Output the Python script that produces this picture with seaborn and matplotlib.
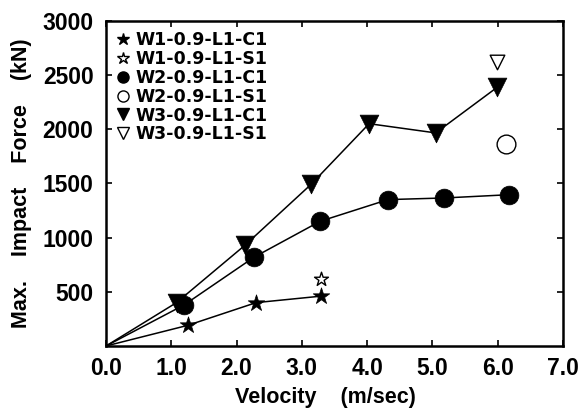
import matplotlib
matplotlib.use("Agg")
import matplotlib.pyplot as plt
from matplotlib import font_manager
from matplotlib.lines import Line2D
import seaborn as sns
import pandas as pd

# Measured impact forces against impact velocity
w1_c1_vel = [0.0, 1.25, 2.30, 3.30]
w1_c1_force = [0, 190, 400, 460]
w1_s1_vel = [3.30]
w1_s1_force = [620]

w2_c1_vel = [0.0, 1.20, 2.27, 3.28, 4.32, 5.18, 6.17]
w2_c1_force = [0, 380, 820, 1150, 1350, 1365, 1395]
w2_s1_vel = [6.13]
w2_s1_force = [1860]

w3_c1_vel = [0.0, 1.08, 2.13, 3.14, 4.03, 5.05, 5.99]
w3_c1_force = [0, 400, 930, 1490, 2050, 1965, 2385]
w3_s1_vel = [5.99]
w3_s1_force = [2620]

series_names = ["W1-0.9-L1-C1", "W1-0.9-L1-S1", "W2-0.9-L1-C1",
                "W2-0.9-L1-S1", "W3-0.9-L1-C1", "W3-0.9-L1-S1"]
x_ticks = [0.0, 1.0, 2.0, 3.0, 4.0, 5.0, 6.0, 7.0]
y_ticks = [500, 1000, 1500, 2000, 2500, 3000]

sns.set_theme(style="ticks")
plt.rcParams.update({
    "text.color": "black",
    "axes.labelcolor": "black",
    "xtick.color": "black",
    "ytick.color": "black",
    "axes.edgecolor": "black",
})

available = {f.name for f in font_manager.fontManager.ttflist}
label_family = "Liberation Sans" if "Liberation Sans" in available else "DejaVu Sans"

fig = plt.figure(figsize=(5.79, 4.17), dpi=100)
ax = fig.add_axes([0.1831, 0.1703, 0.9724 - 0.1831, 0.9504 - 0.1703])

# (velocity, force, marker, filled, marker size in points, joined by a line)
specs = [
    (w1_c1_vel, w1_c1_force, "*", True, 12.5, True),
    (w1_s1_vel, w1_s1_force, "*", False, 10.5, False),
    (w2_c1_vel, w2_c1_force, "o", True, 13.5, True),
    (w2_s1_vel, w2_s1_force, "o", False, 13.5, False),
    (w3_c1_vel, w3_c1_force, "v", True, 13.5, True),
    (w3_s1_vel, w3_s1_force, "v", False, 10.5, False),
]

for vel, force, marker, filled, ms, connected in specs:
    df = pd.DataFrame({"Velocity": vel, "Force": force})
    if connected:
        sns.lineplot(data=df, x="Velocity", y="Force", color="black",
                     linewidth=1.1, ax=ax, sort=False, legend=False)
        pts = df[df["Velocity"] > 0]
    else:
        pts = df
    sns.scatterplot(data=pts, x="Velocity", y="Force", marker=marker,
                    s=ms ** 2,
                    facecolor="black" if filled else "white",
                    edgecolor="black", linewidth=1.0 if not filled else 0.5,
                    ax=ax, legend=False, zorder=3)

ax.set_xlim(0, 7)
ax.set_ylim(0, 3000)
ax.set_xticks(x_ticks)
ax.set_xticklabels([f"{v:.1f}" for v in x_ticks])
ax.set_yticks(y_ticks)
ax.set_yticklabels([str(v) for v in y_ticks])

for side in ["left", "right", "top", "bottom"]:
    ax.spines[side].set_visible(True)
    ax.spines[side].set_linewidth(1.8)
    ax.spines[side].set_color("black")

ax.tick_params(direction="in", length=4, width=1.2, top=True, right=True,
               colors="black")
ax.tick_params(axis="x", pad=8)
ax.tick_params(axis="y", pad=9)
for lab in ax.get_xticklabels() + ax.get_yticklabels():
    lab.set_fontfamily(label_family)
    lab.set_fontweight("bold")
    lab.set_fontsize(16.5)

ax.set_xlabel("Velocity    (m/sec)", fontsize=15.5, fontweight="bold",
              family=label_family)
ax.set_ylabel("Max.    Impact    Force    (kN)", fontsize=15.5,
              fontweight="bold", family=label_family)
ax.xaxis.set_label_coords(0.48, -0.125)
ax.yaxis.set_label_coords(-0.162, 0.5)

handles = []
for (vel, force, marker, filled, ms, connected), name in zip(specs, series_names):
    handles.append(Line2D([], [], linestyle="none", marker=marker,
                          markersize=9 if marker == "*" else 8,
                          markerfacecolor="black" if filled else "white",
                          markeredgecolor="black", markeredgewidth=1.0,
                          label=name))
leg = ax.legend(handles=handles, loc="upper left", frameon=False,
                prop={"family": "DejaVu Sans", "weight": "bold", "size": 12.5},
                labelspacing=0.05, handlelength=0.8, handletextpad=0.3,
                borderaxespad=0.3, borderpad=0.3)

fig.savefig("out.png", dpi=100)
